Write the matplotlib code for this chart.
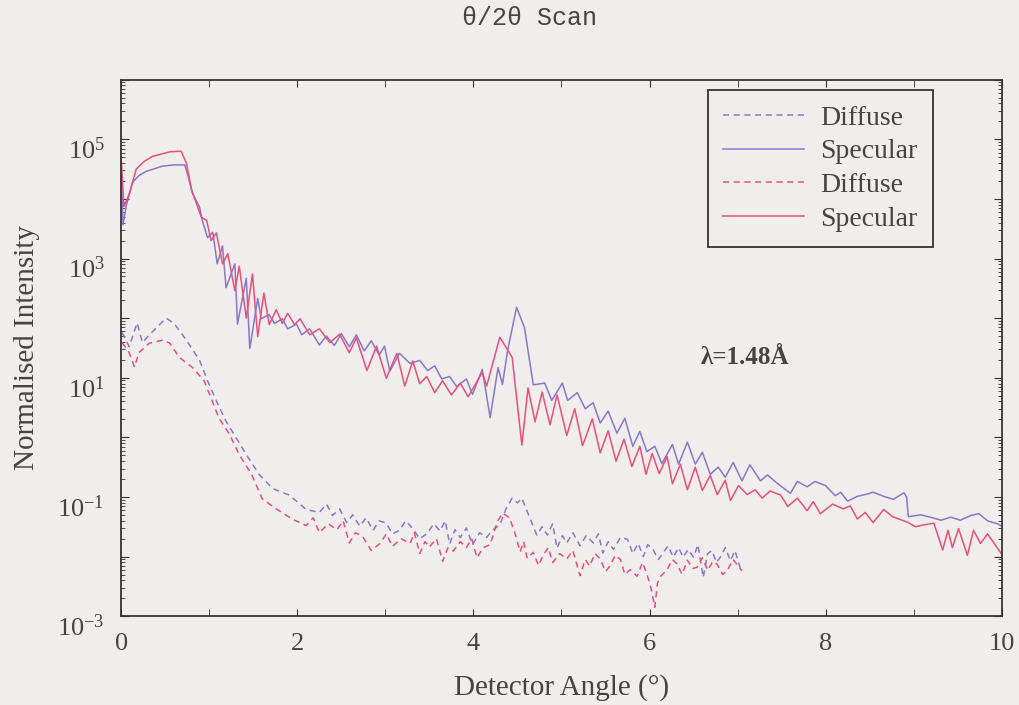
import numpy as np
import matplotlib
matplotlib.use('Agg')
import matplotlib.pyplot as plt
import matplotlib.transforms as mtransforms
from matplotlib.ticker import FixedLocator, LogLocator, FuncFormatter, NullFormatter

# detector angle (deg) and log10(normalised intensity)

# specular, blue sample
blue_spec_x = [0.00, 0.02, 0.06, 0.13, 0.20, 0.28, 0.47, 0.60, 0.72, 0.75, 0.81, 0.89,
               0.92, 0.98, 1.04, 1.09, 1.15, 1.19, 1.29, 1.32, 1.42, 1.46, 1.55, 1.59,
               1.68, 1.74, 1.83, 1.89, 1.99, 2.05, 2.14, 2.25, 2.33, 2.42, 2.50, 2.59,
               2.67, 2.76, 2.84, 2.93, 2.99, 3.05, 3.16, 3.28, 3.39, 3.48, 3.56, 3.64,
               3.73, 3.81, 3.92, 3.99, 4.10, 4.19, 4.28, 4.33, 4.39, 4.49, 4.58, 4.68,
               4.81, 4.89, 5.01, 5.07, 5.18, 5.27, 5.36, 5.44, 5.53, 5.63, 5.72, 5.81,
               5.89, 5.97, 6.06, 6.14, 6.26, 6.33, 6.43, 6.52, 6.60, 6.69, 6.78, 6.86,
               6.95, 7.05, 7.14, 7.26, 7.34, 7.45, 7.60, 7.68, 7.79, 7.88, 8.00, 8.11,
               8.17, 8.25, 8.36, 8.48, 8.54, 8.66, 8.77, 8.89, 8.92, 8.94, 9.08, 9.19,
               9.31, 9.42, 9.53, 9.65, 9.74, 9.84, 9.95, 10.0]
blue_spec_log = [4.41, 3.57, 3.91, 4.28, 4.39, 4.46, 4.55, 4.57, 4.57, 4.43, 4.09, 3.86,
                 3.64, 3.35, 3.44, 2.91, 3.21, 2.51, 2.91, 1.90, 2.67, 1.49, 2.33, 1.99,
                 2.06, 1.91, 1.99, 1.82, 1.90, 1.72, 1.82, 1.55, 1.70, 1.54, 1.74, 1.52,
                 1.72, 1.45, 1.62, 1.38, 1.53, 1.11, 1.41, 1.24, 1.29, 1.12, 1.20, 0.98,
                 1.02, 0.85, 0.98, 0.72, 1.14, 0.33, 1.17, 0.89, 1.47, 2.18, 1.84, 0.88,
                 0.91, 0.62, 0.91, 0.62, 0.75, 0.48, 0.58, 0.24, 0.44, 0.07, 0.32, -0.15,
                 0.10, -0.24, -0.15, -0.44, -0.12, -0.45, -0.08, -0.45, -0.25, -0.62, -0.50, -0.67,
                 -0.42, -0.73, -0.46, -0.73, -0.63, -0.77, -0.94, -0.74, -0.83, -0.74, -0.81, -0.98,
                 -0.92, -1.07, -0.99, -0.95, -0.92, -0.99, -1.04, -0.93, -1.00, -1.33, -1.30, -1.34,
                 -1.39, -1.34, -1.39, -1.31, -1.28, -1.40, -1.45, -1.49]

# specular, red sample
red_spec_x = [0.00, 0.03, 0.09, 0.17, 0.26, 0.35, 0.55, 0.68, 0.74, 0.80, 0.85, 0.91,
              0.97, 1.02, 1.08, 1.15, 1.21, 1.29, 1.34, 1.42, 1.49, 1.55, 1.62, 1.68,
              1.76, 1.83, 1.89, 1.97, 2.03, 2.14, 2.25, 2.37, 2.48, 2.59, 2.67, 2.79,
              2.90, 3.01, 3.13, 3.22, 3.31, 3.39, 3.47, 3.56, 3.65, 3.75, 3.85, 3.94,
              4.10, 4.15, 4.30, 4.44, 4.55, 4.62, 4.70, 4.78, 4.87, 4.95, 5.06, 5.15,
              5.24, 5.35, 5.44, 5.53, 5.62, 5.71, 5.80, 5.89, 5.96, 6.03, 6.11, 6.20,
              6.26, 6.35, 6.43, 6.52, 6.60, 6.69, 6.77, 6.86, 6.92, 7.01, 7.11, 7.20,
              7.28, 7.37, 7.49, 7.57, 7.68, 7.79, 7.86, 7.94, 8.08, 8.20, 8.28, 8.36,
              8.45, 8.54, 8.66, 8.76, 8.85, 8.94, 9.02, 9.11, 9.23, 9.33, 9.39, 9.44,
              9.51, 9.61, 9.68, 9.76, 9.84, 9.91, 10.0]
red_spec_log = [4.66, 3.87, 4.08, 4.50, 4.63, 4.71, 4.79, 4.80, 4.60, 4.14, 3.94, 3.69,
                3.64, 3.30, 3.43, 2.91, 3.08, 2.46, 2.87, 2.00, 2.74, 1.69, 2.42, 1.89,
                2.14, 1.91, 2.08, 1.89, 1.99, 1.72, 1.82, 1.59, 1.73, 1.42, 1.67, 1.12,
                1.53, 0.99, 1.41, 0.86, 1.28, 0.90, 1.02, 0.75, 0.95, 0.71, 0.91, 0.68,
                1.09, 0.86, 1.68, 1.34, -0.13, 0.83, 0.26, 0.76, 0.21, 0.71, 0.03, 0.48,
                -0.14, 0.31, -0.26, 0.11, -0.40, -0.03, -0.49, -0.15, -0.62, -0.27, -0.61, -0.32,
                -0.78, -0.45, -0.88, -0.50, -0.89, -0.64, -0.96, -0.72, -1.06, -0.81, -0.96, -0.88,
                -1.02, -0.90, -0.97, -1.16, -1.02, -1.23, -1.08, -1.28, -1.12, -1.20, -1.15, -1.37,
                -1.26, -1.43, -1.21, -1.33, -1.38, -1.43, -1.50, -1.47, -1.44, -1.89, -1.56, -1.85,
                -1.53, -1.98, -1.56, -1.78, -1.62, -1.77, -1.96]

# diffuse, blue sample
blue_diff_x = [0.01, 0.09, 0.18, 0.24, 0.34, 0.51, 0.60, 0.74, 0.89, 0.98, 1.08, 1.19,
               1.31, 1.42, 1.57, 1.72, 1.91, 2.10, 2.25, 2.33, 2.40, 2.48, 2.56, 2.63,
               2.71, 2.78, 2.86, 2.93, 3.01, 3.08, 3.16, 3.23, 3.31, 3.39, 3.47, 3.55,
               3.62, 3.68, 3.73, 3.79, 3.85, 3.92, 3.99, 4.07, 4.15, 4.22, 4.30, 4.37,
               4.44, 4.50, 4.55, 4.64, 4.72, 4.78, 4.84, 4.90, 4.95, 5.01, 5.06, 5.13,
               5.21, 5.28, 5.36, 5.42, 5.47, 5.53, 5.59, 5.67, 5.75, 5.81, 5.87, 5.93,
               5.98, 6.04, 6.10, 6.15, 6.21, 6.27, 6.33, 6.38, 6.44, 6.50, 6.55, 6.61,
               6.66, 6.71, 6.76, 6.80, 6.86, 6.92, 6.97, 7.03]
blue_diff_log = [1.76, 1.52, 1.92, 1.59, 1.75, 2.00, 1.91, 1.63, 1.29, 0.95, 0.61, 0.27,
                 -0.02, -0.29, -0.63, -0.86, -0.97, -1.21, -1.26, -1.12, -1.31, -1.20, -1.43, -1.30,
                 -1.49, -1.35, -1.56, -1.40, -1.44, -1.62, -1.56, -1.40, -1.53, -1.70, -1.62, -1.45,
                 -1.57, -1.40, -1.79, -1.55, -1.68, -1.52, -1.80, -1.60, -1.68, -1.55, -1.47, -1.20,
                 -1.02, -1.10, -1.02, -1.35, -1.64, -1.50, -1.64, -1.45, -1.86, -1.65, -1.77, -1.60,
                 -1.82, -1.65, -1.77, -1.62, -1.94, -1.75, -1.88, -1.68, -1.71, -1.95, -1.78, -2.00,
                 -1.80, -1.88, -2.05, -1.95, -1.82, -2.01, -1.85, -2.01, -1.88, -2.01, -1.80, -2.35,
                 -1.95, -1.90, -2.10, -2.02, -1.85, -2.07, -1.90, -2.19]

# diffuse, red sample
red_diff_x = [0.01, 0.09, 0.15, 0.20, 0.32, 0.47, 0.55, 0.66, 0.81, 0.94, 1.02, 1.11,
              1.23, 1.34, 1.48, 1.60, 1.76, 1.94, 2.10, 2.18, 2.25, 2.35, 2.45, 2.52,
              2.59, 2.66, 2.74, 2.84, 2.94, 3.01, 3.08, 3.18, 3.28, 3.33, 3.39, 3.45,
              3.50, 3.58, 3.65, 3.71, 3.77, 3.85, 3.92, 3.98, 4.04, 4.11, 4.19, 4.27,
              4.33, 4.41, 4.47, 4.53, 4.57, 4.61, 4.68, 4.74, 4.79, 4.85, 4.90, 4.98,
              5.06, 5.13, 5.21, 5.27, 5.32, 5.38, 5.44, 5.50, 5.55, 5.61, 5.67, 5.72,
              5.78, 5.86, 5.92, 5.97, 6.02, 6.06, 6.09, 6.12, 6.20, 6.26, 6.31, 6.37,
              6.43, 6.49, 6.54, 6.60, 6.66, 6.72, 6.77, 6.83, 6.88, 6.95, 7.05]
red_diff_log = [1.59, 1.42, 1.18, 1.42, 1.58, 1.63, 1.58, 1.34, 1.17, 0.95, 0.66, 0.32,
                0.05, -0.29, -0.62, -1.03, -1.20, -1.37, -1.48, -1.35, -1.60, -1.45, -1.55, -1.40,
                -1.77, -1.60, -1.66, -1.90, -1.78, -1.62, -1.83, -1.70, -1.78, -1.60, -1.95, -1.75,
                -1.84, -1.70, -2.08, -1.85, -1.91, -1.75, -1.85, -1.70, -2.02, -1.85, -1.80, -1.42,
                -1.27, -1.35, -1.60, -1.92, -1.75, -2.03, -1.93, -2.15, -1.98, -1.85, -2.10, -1.95,
                -2.04, -1.90, -2.32, -2.05, -2.16, -1.95, -2.04, -2.25, -2.16, -1.98, -2.05, -2.30,
                -2.22, -2.33, -2.10, -2.29, -2.55, -2.85, -2.45, -2.34, -2.22, -2.05, -2.12, -2.30,
                -2.06, -2.20, -2.18, -2.02, -2.23, -2.08, -2.13, -2.30, -2.24, -2.05, -2.24]

legend_labels = ['Diffuse', 'Specular', 'Diffuse', 'Specular']
x_ticks = [0, 2, 4, 6, 8, 10]

bg = '#efeeec'
blue = '#8878c6'
red = '#ea4f7c'
serif = ['Liberation Serif', 'DejaVu Serif']

plt.rcParams['font.family'] = serif
plt.rcParams['mathtext.default'] = 'regular'

fig = plt.figure(figsize=(10.19, 7.05), dpi=100, facecolor=bg)
ax = fig.add_axes([0.119, 0.126, 0.864, 0.761], facecolor=bg)

ax.plot(blue_diff_x, 10 ** np.array(blue_diff_log), color=blue, lw=1.1,
        dashes=(4, 3), label=legend_labels[0])
ax.plot(blue_spec_x, 10 ** np.array(blue_spec_log), color=blue, lw=1.1,
        label=legend_labels[1])
ax.plot(red_diff_x, 10 ** np.array(red_diff_log), color=red, lw=1.1,
        dashes=(4, 3), label=legend_labels[2])
ax.plot(red_spec_x, 10 ** np.array(red_spec_log), color=red, lw=1.1,
        label=legend_labels[3])

ax.set_yscale('log')
ax.set_xlim(0, 10)
ax.set_ylim(1e-3, 1e6)

ax.xaxis.set_major_locator(FixedLocator(x_ticks))
ax.xaxis.set_minor_locator(FixedLocator([1, 3, 5, 7, 9]))
ax.yaxis.set_major_locator(LogLocator(base=10, numticks=20))
ax.yaxis.set_minor_locator(LogLocator(base=10, subs=np.arange(2, 10), numticks=20))
ax.yaxis.set_minor_formatter(NullFormatter())


def ylab(v, pos):
    e = int(round(np.log10(v)))
    if e % 2 == 0 or e > 5:
        return ''
    return r'$10^{%d}$' % e


ax.yaxis.set_major_formatter(FuncFormatter(ylab))
ax.tick_params(which='both', direction='in', top=True, right=True, colors='#333333',
               labelcolor='#444444', labelsize=19)
ax.tick_params(axis='x', which='both', length=5, pad=12)
ax.tick_params(axis='y', which='major', length=6, pad=12)
ax.tick_params(axis='y', which='minor', length=3)
for s in ax.spines.values():
    s.set_color('#333333')
    s.set_linewidth(1.3)

# y labels sit a little below their ticks in the original
shift = mtransforms.ScaledTranslation(0, -9 / 100, fig.dpi_scale_trans)
for lab in ax.get_yticklabels():
    lab.set_transform(lab.get_transform() + shift)

ax.set_xlabel('Detector Angle (°)', fontsize=21, color='#444444', labelpad=14)
ax.set_ylabel('Normalised Intensity', fontsize=21, color='#444444', labelpad=12)

leg = ax.legend(loc='upper right', bbox_to_anchor=(0.922, 0.981), fontsize=20,
                frameon=True, fancybox=False, edgecolor='#333333', facecolor=bg,
                framealpha=1, handlelength=2.9, handletextpad=0.6, borderpad=0.55,
                labelspacing=0.3, borderaxespad=0)
leg.get_frame().set_linewidth(1.3)
for t in leg.get_texts():
    t.set_color('#444444')

ax.text(7.08, 22, 'λ=1.48Å', fontsize=18, fontweight='bold', color='#444444',
        ha='center', va='center')

fig.text(0.52, 0.974, 'θ/2θ Scan', fontsize=18, family=['Liberation Mono', 'DejaVu Sans Mono'],
         color='#444444', ha='center', va='center')

fig.savefig('out.png', dpi=100, facecolor=bg)
